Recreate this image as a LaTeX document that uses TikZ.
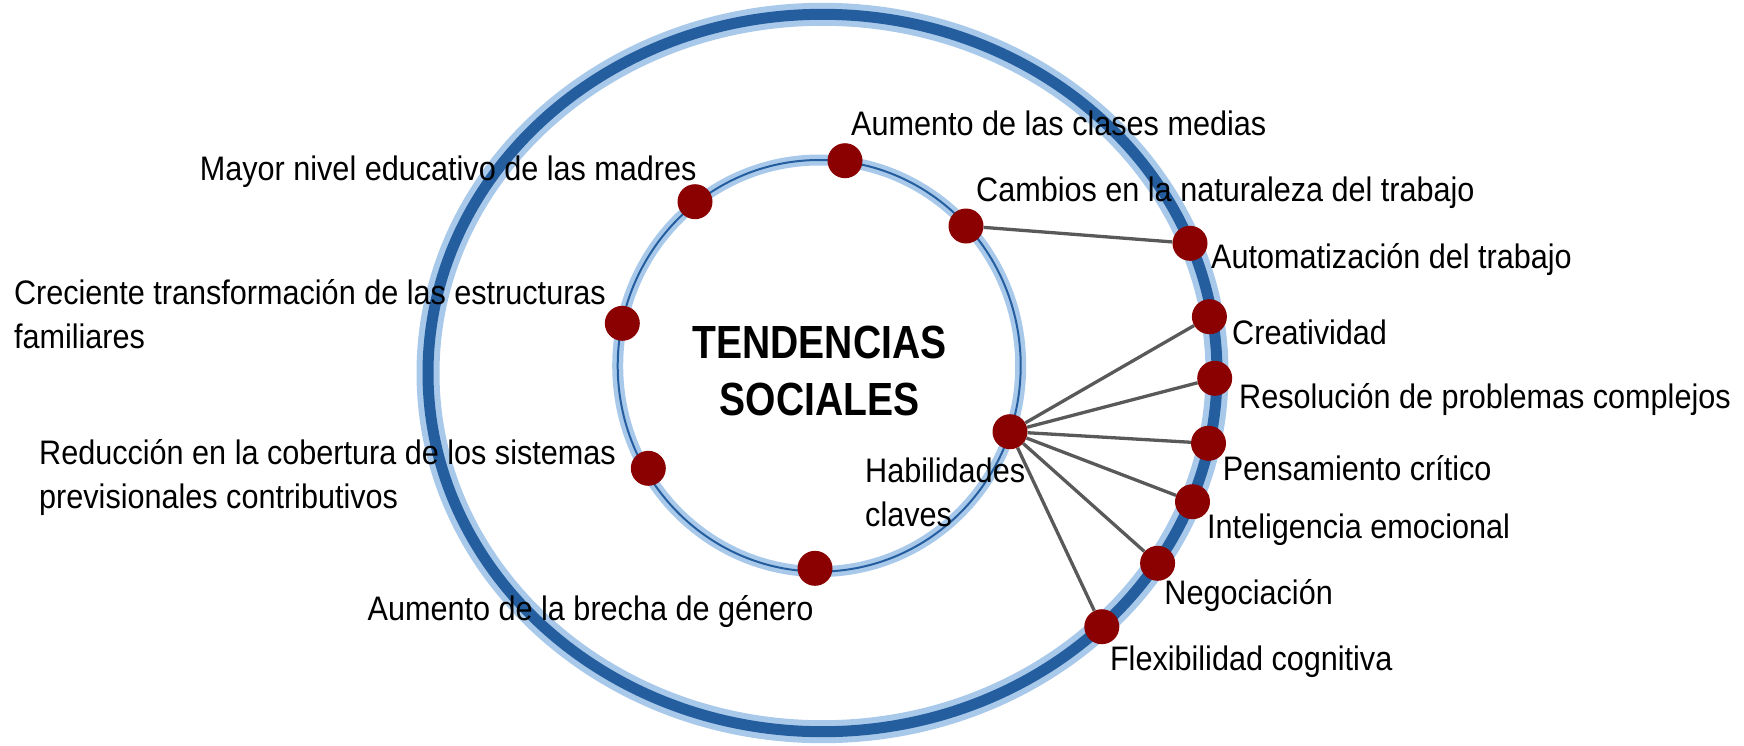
\documentclass[tikz,border=0pt]{standalone}
\usepackage{fontspec}
\setmainfont{Liberation Sans}[FakeStretch=0.9]
\newfontfamily\titlefont{Liberation Sans}[FakeStretch=0.84]
\definecolor{ringdark}{RGB}{37,94,159}
\definecolor{ringlight}{RGB}{169,201,235}
\definecolor{dotred}{RGB}{139,0,0}
\definecolor{linkgray}{RGB}{89,89,89}
\begin{document}
\begin{tikzpicture}[x=1pt,y=-1pt,
  dot/.style={circle, fill=dotred, minimum size=35pt, inner sep=0pt},
  lbl/.style={inner sep=0pt, anchor=base west, font=\fontsize{34}{44}\selectfont, align=left},
  link/.style={draw=linkgray, line width=3.3pt},
  title/.style={inner sep=0pt, anchor=base, align=center, font=\titlefont\bfseries\fontsize{46.5}{56.7}\selectfont}]
\useasboundingbox (0,0) rectangle (1744,745);
% rings
\draw[ringlight, line width=23pt] (822.5,373) ellipse [x radius=394.5pt, y radius=358.7pt];
\draw[ringdark, line width=11pt] (822.5,373) ellipse [x radius=394.5pt, y radius=358.7pt];
\draw[ringlight, line width=11pt] (819.2,365.8) ellipse [x radius=201.5pt, y radius=205.8pt];
\draw[ringdark, line width=2pt] (819.2,365.8) ellipse [x radius=201.5pt, y radius=205.8pt];
% dots
\node[dot] (clases) at (845,160.7) {};
\node[dot] (madres) at (695,201.7) {};
\node[dot] (estruc) at (622.3,323.3) {};
\node[dot] (sistem) at (648.3,468.3) {};
\node[dot] (brecha) at (815,568.3) {};
\node[dot] (cambios) at (966,226) {};
\node[dot] (habil) at (1010,431.7) {};
\node[dot] (auto) at (1190,243.3) {};
\node[dot] (crea) at (1209.4,316.7) {};
\node[dot] (reso) at (1214.7,378.3) {};
\node[dot] (pens) at (1208.5,443.3) {};
\node[dot] (intel) at (1192.5,501.7) {};
\node[dot] (nego) at (1157.6,563.3) {};
\node[dot] (flex) at (1101.8,626.7) {};
% connectors
\draw[link] (cambios) -- (auto);
\foreach \t in {crea,reso,pens,intel,nego,flex}{\draw[link] (habil) -- (\t);}
% labels
\node[lbl] (tclases) at (851,135) {Aumento de las clases medias};
\node[lbl] (tmadres) at (199.7,180) {Mayor nivel educativo de las madres};
\node[lbl] (testruc) at (13.8,348) {Creciente transformación de las estructuras\\familiares};
\node[lbl] (tsistem) at (39,508.3) {Reducción en la cobertura de los sistemas\\previsionales contributivos};
\node[lbl] (tbrecha) at (367.5,620) {Aumento de la brecha de género};
\node[lbl] (tcambios) at (976,201.7) {Cambios en la naturaleza del trabajo};
\node[lbl] (tauto) at (1211,268.3) {Automatización del trabajo};
\node[lbl] (tcrea) at (1232,344) {Creatividad};
\node[lbl] (treso) at (1239,408.3) {Resolución de problemas complejos};
\node[lbl] (tpens) at (1222.6,480) {Pensamiento crítico};
\node[lbl] (tintel) at (1207,538.3) {Inteligencia emocional};
\node[lbl] (tnego) at (1164.2,604) {Negociación};
\node[lbl] (tflex) at (1109.8,670) {Flexibilidad cognitiva};
\node[lbl] (thabil) at (865,526.7) {Habilidades\\claves};
\node[title] (ttitle) at (819.5,415) {TENDENCIAS\\SOCIALES};
\end{tikzpicture}
\end{document}
